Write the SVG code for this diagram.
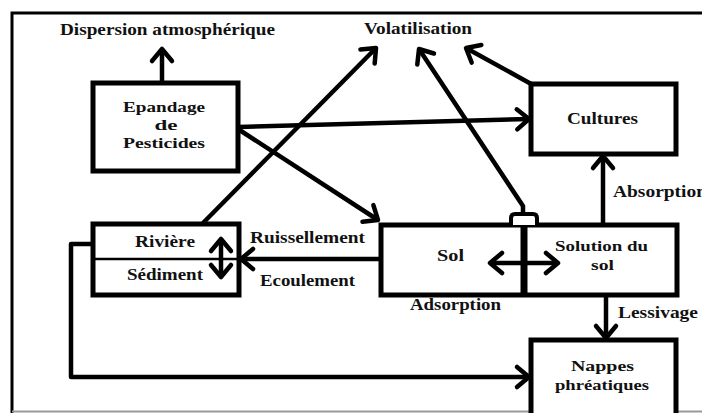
<svg xmlns="http://www.w3.org/2000/svg" width="702" height="413" viewBox="0 0 702 413">
<style>
text{font-family:"Liberation Serif","Times New Roman",serif;font-weight:bold;font-size:16px;fill:#111;text-anchor:middle}
.box{fill:#fff;stroke:#000;stroke-width:5}
.c{fill:none;stroke:#000;stroke-width:4.5;stroke-linejoin:round}
.s{font-size:15px}
</style>
<defs>
<marker id="ah" markerUnits="userSpaceOnUse" viewBox="-16 -13 20 26" markerWidth="20" markerHeight="26" refX="0" refY="0" orient="auto-start-reverse" overflow="visible">
<path d="M-12,-10 L0,0 L-12,10" fill="none" stroke="#000" stroke-width="4.5" stroke-linecap="round" stroke-linejoin="round"/>
</marker>
</defs>
<rect width="702" height="413" fill="#fff"/>
<path d="M12,413 V13 H702" fill="none" stroke="#000" stroke-width="3"/>
<line x1="12" y1="411.5" x2="702" y2="411.5" stroke="#999" stroke-width="2"/>

<g id="connectors">
<line class="c" x1="162" y1="83" x2="162" y2="49" marker-end="url(#ah)"/>
<line class="c" x1="203" y1="223" x2="376" y2="48" marker-end="url(#ah)"/>
<path class="c" d="M523,214 V206 L419,49" marker-end="url(#ah)"/>
<line class="c" x1="533" y1="85" x2="466" y2="48" marker-end="url(#ah)"/>
<line class="c" x1="238" y1="127" x2="529" y2="119" marker-end="url(#ah)"/>
<line class="c" x1="238" y1="129" x2="378" y2="220" marker-end="url(#ah)"/>
<line class="c" x1="381" y1="259" x2="241" y2="259" marker-end="url(#ah)"/>
<line class="c" x1="603" y1="225" x2="603" y2="156" marker-end="url(#ah)"/>
<line class="c" x1="606" y1="295" x2="606" y2="338" marker-end="url(#ah)"/>
<path class="c" d="M93,244 H71 V377 H529" marker-end="url(#ah)"/>
</g>

<g id="dispersion"><text x="167.5" y="35" textLength="215" lengthAdjust="spacingAndGlyphs">Dispersion atmosphérique</text></g>
<g id="volatilisation"><text x="418" y="34" textLength="108" lengthAdjust="spacingAndGlyphs">Volatilisation</text></g>

<g id="epandage">
<rect class="box" x="93" y="83" width="145" height="88"/>
<text class="s" x="164" y="112" textLength="82" lengthAdjust="spacingAndGlyphs">Epandage</text>
<text class="s" x="166" y="130" textLength="23" lengthAdjust="spacingAndGlyphs">de</text>
<text class="s" x="164" y="148" textLength="82" lengthAdjust="spacingAndGlyphs">Pesticides</text>
</g>

<g id="cultures">
<rect class="box" x="531" y="84" width="145" height="70"/>
<text x="602.5" y="124" textLength="71" lengthAdjust="spacingAndGlyphs">Cultures</text>
</g>

<g id="riviere">
<rect class="box" x="93" y="224" width="146" height="71"/>
<line x1="93" y1="259" x2="239" y2="259" stroke="#000" stroke-width="2.5"/>
<text x="165" y="247" textLength="60" lengthAdjust="spacingAndGlyphs">Rivière</text>
<text x="165" y="280" textLength="76" lengthAdjust="spacingAndGlyphs">Sédiment</text>
<line class="c" x1="221" y1="239" x2="221" y2="277" marker-start="url(#ah)" marker-end="url(#ah)"/>
</g>

<g id="sol">
<rect class="box" x="381" y="225" width="296" height="70"/>
<line x1="524" y1="222" x2="524" y2="295" stroke="#000" stroke-width="7"/>
<path d="M511,225 V218 Q511,214 515,214 H533 Q537,214 537,218 V225" fill="#fff" stroke="#000" stroke-width="4"/>
<text x="450.5" y="261" textLength="27" lengthAdjust="spacingAndGlyphs">Sol</text>
<text class="s" x="601.5" y="251" textLength="93" lengthAdjust="spacingAndGlyphs">Solution du</text>
<text class="s" x="602.5" y="270" textLength="23" lengthAdjust="spacingAndGlyphs">sol</text>
<line class="c" x1="490" y1="263" x2="558" y2="263" marker-start="url(#ah)" marker-end="url(#ah)"/>
</g>

<g id="nappes">
<path class="box" d="M531,413 V340 H676 V413"/>
<text class="s" x="602.5" y="371" textLength="63" lengthAdjust="spacingAndGlyphs">Nappes</text>
<text class="s" x="602" y="390" textLength="94" lengthAdjust="spacingAndGlyphs">phréatiques</text>
</g>

<g id="labels">
<text x="307.5" y="243" textLength="115" lengthAdjust="spacingAndGlyphs">Ruissellement</text>
<text x="307.5" y="286" textLength="95" lengthAdjust="spacingAndGlyphs">Ecoulement</text>
<text x="455.5" y="310" textLength="91" lengthAdjust="spacingAndGlyphs">Adsorption</text>
<text x="660" y="197" textLength="94" lengthAdjust="spacingAndGlyphs">Absorption</text>
<text x="658" y="318" textLength="80" lengthAdjust="spacingAndGlyphs">Lessivage</text>
</g>
</svg>
